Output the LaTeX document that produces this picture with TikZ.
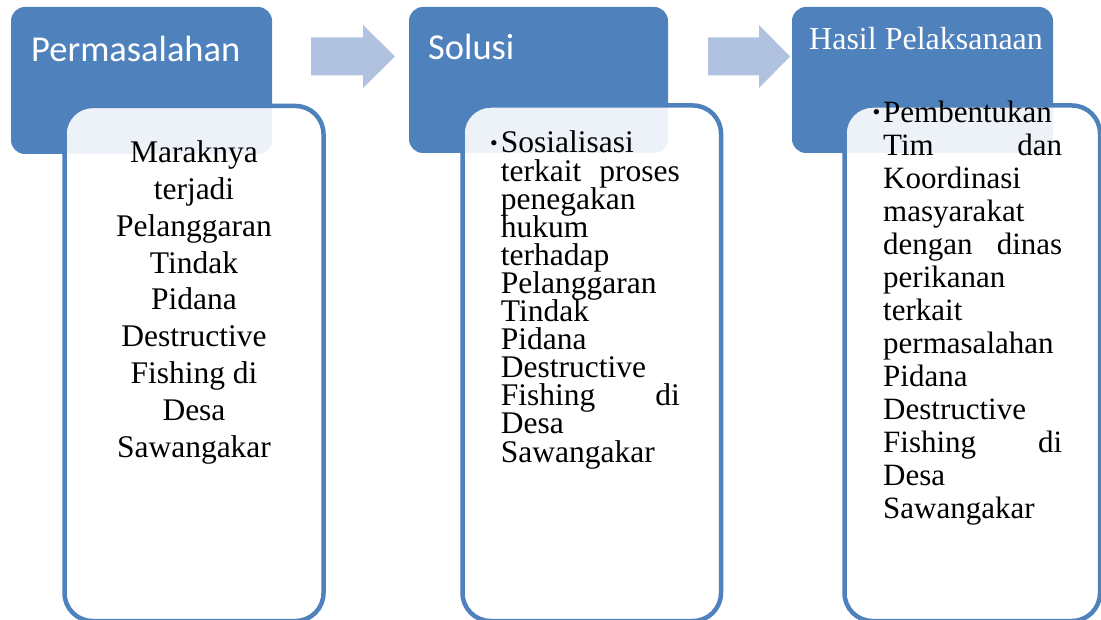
\documentclass[tikz,border=0pt]{standalone}
\usepackage{fontspec}
\setmainfont{Liberation Serif}
\newfontfamily\hdfont{Carlito}
\definecolor{hblue}{HTML}{4F81BD}
\definecolor{arrowblue}{HTML}{B0C2DF}
\newcommand{\bul}{\llap{\raisebox{2.5pt}{\fontsize{22}{22}\selectfont •}\hspace{3pt}}}
\newcommand{\tightlines}{\lineskiplimit=-100pt\lineskip=0pt}
\begin{document}
\begin{tikzpicture}[x=1pt,y=-1pt,
  headbox/.style={rectangle, fill=hblue, rounded corners=14pt, inner sep=0pt},
  bodybox/.style={rectangle, draw=hblue, line width=4.5pt, fill=white, fill opacity=0.9, draw opacity=1, rounded corners=28pt, inner sep=0pt},
  flowarrow/.style={fill=arrowblue},
  headsans/.style={anchor=base west, inner sep=0pt, text=white, font=\hdfont\fontsize{36.5}{40}\selectfont},
  headserif/.style={anchor=base west, inner sep=0pt, text=white, font=\fontsize{32}{36}\selectfont},
  bodytext/.style={anchor=base west, inner sep=0pt, align=left}
]
\useasboundingbox (0,0) rectangle (1101,620);
\clip (0,0) rectangle (1101,620);
\fill[white] (0,0) rectangle (1101,620);

% header boxes
\node[headbox, minimum width=261pt, minimum height=147pt] (h1) at (141.5,80.5) {};
\node[headbox, minimum width=259pt, minimum height=146pt] (h2) at (538.5,80) {};
\node[headbox, minimum width=261pt, minimum height=146pt] (h3) at (922.5,80) {};

% body boxes
\node[bodybox, minimum width=259pt, minimum height=515pt] (b1) at (194,363.5) {};
\node[bodybox, minimum width=258.5pt, minimum height=515.5pt] (b2) at (591.75,363.25) {};
\node[bodybox, minimum width=255.5pt, minimum height=515.5pt] (b3) at (972.25,363.25) {};

% block arrows
\fill[flowarrow] (311,37.5) -- (363,37.5) -- (363,25) -- (395,56.5) -- (363,88) -- (363,75.5) -- (311,75.5) -- cycle;
\fill[flowarrow] (708,37.5) -- (759,37.5) -- (759,25) -- (790,56.5) -- (759,88) -- (759,75.5) -- (708,75.5) -- cycle;

% header texts
\node[headsans] (t1) at (31,62) {Permasalahan};
\node[headsans] (t2) at (428,60) {Solusi};
\node[headserif] (t3) at (809,50) {Hasil Pelaksanaan};

% body texts (anchored at the baseline of the last line)
\node[anchor=base, inner sep=0pt, align=center, font=\fontsize{31.5}{36.8}\selectfont\tightlines] (c1) at (194,457)
  {Maraknya\\terjadi\\Pelanggaran\\Tindak\\Pidana\\Destructive\\Fishing di\\Desa\\Sawangakar};

\node[bodytext, font=\fontsize{31.5}{28.1}\selectfont\tightlines] (c2) at (500.7,462)
  {\bul Sosialisasi\\\makebox[179pt][s]{terkait proses}\\penegakan\\hukum\\terhadap\\Pelanggaran\\Tindak\\Pidana\\Destructive\\\makebox[179pt][s]{Fishing di}\\Desa\\Sawangakar};

\node[bodytext, font=\fontsize{31}{33}\selectfont\tightlines] (c3) at (883,518)
  {\bul Pembentukan\\\makebox[179pt][s]{Tim dan}\\Koordinasi\\masyarakat\\\makebox[179pt][s]{dengan dinas}\\perikanan\\terkait\\permasalahan\\Pidana\\Destructive\\\makebox[179pt][s]{Fishing di}\\Desa\\Sawangakar};
\end{tikzpicture}
\end{document}
